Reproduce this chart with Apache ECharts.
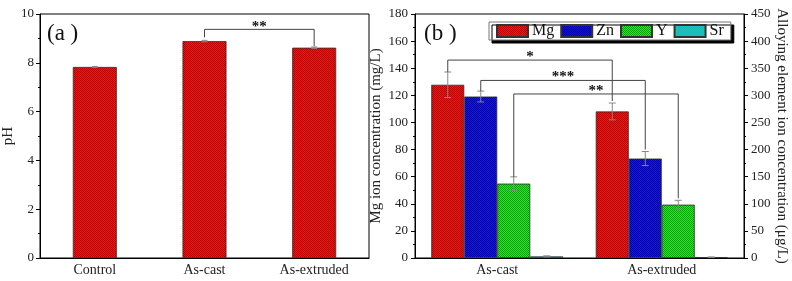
<!DOCTYPE html>
<html>
<head>
<meta charset="utf-8">
<script src="https://cdn.jsdelivr.net/npm/echarts@6/dist/echarts.min.js"></script>
<style>
  html, body { margin: 0; padding: 0; background: #fff; }
  #chart { width: 792px; height: 281px; }
</style>
</head>
<body>
<div id="chart"></div>
<script>
// panel (a): pH
var phCategories = ['Control', 'As-cast', 'As-extruded'];
var phValues = [7.83, 8.89, 8.62];
var phErrors = [0.02, 0.03, 0.03];

// panel (b): ion concentrations
var ionCategories = ['As-cast', 'As-extruded'];
var mgValues = [127.8, 108.1];   // mg/L, left axis
var mgErrors = [9.4, 6.2];
var znValues = [297.8, 183.4];   // ug/L, right axis
var znErrors = [10, 13];
var yValues = [137.2, 98.4];
var yErrors = [12.4, 8];
var srValues = [3.0, 1.5];
var srErrors = [1.0, 0.5];

// significance brackets
var phBracket = { from: 1, to: 2, level: 9.37, label: '**' };
var ionBrackets = [
  { series: 0, level: 146, label: '*' },
  { series: 1, level: 131, label: '***' },
  { series: 2, level: 121, label: '**' }
];

var FONT = '"Liberation Serif", "Times New Roman", serif';
var BAR_A = 44;
var BAR_B = 33;

function pattern(base, dark) {
  var c = document.createElement('canvas');
  c.width = 2; c.height = 2;
  var ctx = c.getContext('2d');
  ctx.fillStyle = base;
  ctx.fillRect(0, 0, 2, 2);
  ctx.fillStyle = dark;
  ctx.fillRect(0, 0, 1, 1);
  ctx.fillRect(1, 1, 1, 1);
  return { image: c, repeat: 'repeat' };
}

var red = pattern('#ff1010', '#a80000');
var blue = pattern('#1414ff', '#000084');
var green = pattern('#22ee22', '#009a00');
var cyan = pattern('#33e6e6', '#009595');

function errRender(offsetIdx, barW, capHalf) {
  return function (params, api) {
    var c = api.value(0), v = api.value(1), e = api.value(2);
    var off = offsetIdx == null ? 0 : (offsetIdx - 1.5) * barW;
    var hi = api.coord([c, v + e]);
    var lo = api.coord([c, v - e]);
    var x = hi[0] + off;
    var st = { stroke: '#888', lineWidth: 1 };
    return {
      type: 'group',
      children: [
        { type: 'line', shape: { x1: x, y1: hi[1], x2: x, y2: lo[1] }, style: st },
        { type: 'line', shape: { x1: x - capHalf, y1: hi[1], x2: x + capHalf, y2: hi[1] }, style: st },
        { type: 'line', shape: { x1: x - capHalf, y1: lo[1], x2: x + capHalf, y2: lo[1] }, style: st }
      ]
    };
  };
}

function errData(vals, errs) {
  return vals.map(function (v, i) { return [i, v, errs[i]]; });
}

function yAxisBase(extra) {
  var base = {
    type: 'value',
    nameLocation: 'middle',
    nameTextStyle: { fontFamily: FONT, fontSize: 15, color: '#222' },
    axisLine: { show: true, lineStyle: { color: '#000', width: 1 } },
    axisTick: { show: true, inside: false, length: 4, lineStyle: { color: '#000' } },
    minorTick: { show: true, splitNumber: 2, length: 2, lineStyle: { color: '#000' } },
    splitLine: { show: false },
    axisLabel: { fontFamily: FONT, fontSize: 13, color: '#222', margin: 7 }
  };
  return Object.assign(base, extra);
}

function xAxisBase(extra) {
  var base = {
    type: 'category',
    axisLine: { show: true, lineStyle: { color: '#000', width: 1 } },
    axisTick: { show: false },
    axisLabel: { fontFamily: FONT, fontSize: 14, color: '#222', margin: 5 },
    splitLine: { show: false }
  };
  return Object.assign(base, extra);
}

var barBorder = { borderColor: '#333', borderWidth: 0.8 };

var myChart = echarts.init(document.getElementById('chart'), null, { renderer: 'canvas' });

var option = {
  animation: false,
  backgroundColor: '#fff',
  grid: [
    { left: 39, top: 14, width: 330, height: 244, show: true, borderColor: '#000', borderWidth: 1 },
    { left: 415, top: 14, width: 329, height: 244, show: true, borderColor: '#000', borderWidth: 1 }
  ],
  xAxis: [
    xAxisBase({ gridIndex: 0, data: phCategories }),
    xAxisBase({ gridIndex: 1, data: ionCategories })
  ],
  yAxis: [
    yAxisBase({ gridIndex: 0, min: 0, max: 10, interval: 2, name: 'pH', nameGap: 24,
      axisLabel: { fontFamily: FONT, fontSize: 13, color: '#222', margin: 6 } }),
    yAxisBase({ gridIndex: 1, min: 0, max: 180, interval: 20, position: 'left',
      name: 'Mg ion concentration (mg/L)', nameGap: 31 }),
    yAxisBase({ gridIndex: 1, min: 0, max: 450, interval: 50, position: 'right',
      name: 'Alloying element ion concentration (\u03bcg/L)', nameGap: 27, nameRotate: -90 })
  ],
  legend: {
    data: ['Mg', 'Zn', 'Y', 'Sr'],
    left: 489, top: 22,
    orient: 'horizontal',
    icon: 'rect',
    itemWidth: 31, itemHeight: 12, itemGap: 6,
    padding: [1, 7, 1, 7],
    backgroundColor: '#fff',
    borderColor: '#777', borderWidth: 1,
    shadowColor: '#000', shadowOffsetX: 3, shadowOffsetY: 3, shadowBlur: 0,
    textStyle: { fontFamily: FONT, fontSize: 16, color: '#111', lineHeight: 14, padding: [0, 0, 0, -1] }
  },
  series: [
    { name: 'pH', type: 'bar', xAxisIndex: 0, yAxisIndex: 0, barWidth: BAR_A, data: phValues,
      itemStyle: Object.assign({ color: red }, barBorder) },
    { type: 'custom', xAxisIndex: 0, yAxisIndex: 0, data: errData(phValues, phErrors),
      renderItem: errRender(null, 0, 3), z: 5 },

    { name: 'Mg', type: 'bar', xAxisIndex: 1, yAxisIndex: 1, barWidth: BAR_B, barGap: '0%', data: mgValues,
      itemStyle: Object.assign({ color: red }, barBorder) },
    { name: 'Zn', type: 'bar', xAxisIndex: 1, yAxisIndex: 2, barWidth: BAR_B, barGap: '0%', data: znValues,
      itemStyle: Object.assign({ color: blue }, barBorder) },
    { name: 'Y', type: 'bar', xAxisIndex: 1, yAxisIndex: 2, barWidth: BAR_B, barGap: '0%', data: yValues,
      itemStyle: Object.assign({ color: green }, barBorder) },
    { name: 'Sr', type: 'bar', xAxisIndex: 1, yAxisIndex: 2, barWidth: BAR_B, barGap: '0%', data: srValues,
      itemStyle: Object.assign({ color: cyan }, barBorder) },

    { type: 'custom', xAxisIndex: 1, yAxisIndex: 1, data: errData(mgValues, mgErrors),
      renderItem: errRender(0, BAR_B, 3.5), z: 5 },
    { type: 'custom', xAxisIndex: 1, yAxisIndex: 2, data: errData(znValues, znErrors),
      renderItem: errRender(1, BAR_B, 3.5), z: 5 },
    { type: 'custom', xAxisIndex: 1, yAxisIndex: 2, data: errData(yValues, yErrors),
      renderItem: errRender(2, BAR_B, 3.5), z: 5 },
    { type: 'custom', xAxisIndex: 1, yAxisIndex: 2, data: errData(srValues, srErrors),
      renderItem: errRender(3, BAR_B, 3.5), z: 5 }
  ]
};

myChart.setOption(option);

// brackets and panel letters, placed through the axes' own scales
var graphics = [];
var lineStyle = { stroke: '#444', lineWidth: 1, fill: null };
var starFont = 'bold 15px ' + FONT;

(function () {
  var x1 = myChart.convertToPixel({ xAxisIndex: 0 }, phBracket.from);
  var x2 = myChart.convertToPixel({ xAxisIndex: 0 }, phBracket.to);
  var yH = myChart.convertToPixel({ yAxisIndex: 0 }, phBracket.level);
  var yL = myChart.convertToPixel({ yAxisIndex: 0 }, phValues[phBracket.from] + phErrors[phBracket.from]) - 3;
  var yR = myChart.convertToPixel({ yAxisIndex: 0 }, phValues[phBracket.to] + phErrors[phBracket.to]) - 1;
  graphics.push({ type: 'polyline', shape: { points: [[x1, yL], [x1, yH], [x2, yH], [x2, yR]] }, style: lineStyle, z: 10 });
  graphics.push({ type: 'text', x: (x1 + x2) / 2, y: yH - 2,
    style: { text: phBracket.label, font: starFont, fill: '#111', align: 'center', verticalAlign: 'middle' }, z: 10 });
})();

var ionVals = [mgValues, znValues, yValues, srValues];
var ionErrs = [mgErrors, znErrors, yErrors, srErrors];
ionBrackets.forEach(function (b) {
  var s = b.series;
  var axis = s === 0 ? 1 : 2;
  var off = (s - 1.5) * BAR_B;
  var x1 = myChart.convertToPixel({ xAxisIndex: 1 }, 0) + off;
  var x2 = myChart.convertToPixel({ xAxisIndex: 1 }, 1) + off;
  var yH = myChart.convertToPixel({ yAxisIndex: 1 }, b.level);
  var yL = myChart.convertToPixel({ yAxisIndex: axis }, ionVals[s][0] + ionErrs[s][0]);
  var yR = myChart.convertToPixel({ yAxisIndex: axis }, ionVals[s][1] + ionErrs[s][1]) - 2;
  graphics.push({ type: 'polyline', shape: { points: [[x1, yL], [x1, yH], [x2, yH], [x2, yR]] }, style: lineStyle, z: 10 });
  graphics.push({ type: 'text', x: (x1 + x2) / 2, y: yH - 3,
    style: { text: b.label, font: starFont, fill: '#111', align: 'center', verticalAlign: 'middle' }, z: 10 });
});

graphics.push({ type: 'text', left: 47, top: 22, style: { text: '(a )', font: '23px ' + FONT, fill: '#111' }, z: 10 });
graphics.push({ type: 'text', left: 424, top: 22, style: { text: '(b )', font: '23px ' + FONT, fill: '#111' }, z: 10 });

myChart.setOption({ graphic: graphics });
</script>
</body>
</html>
